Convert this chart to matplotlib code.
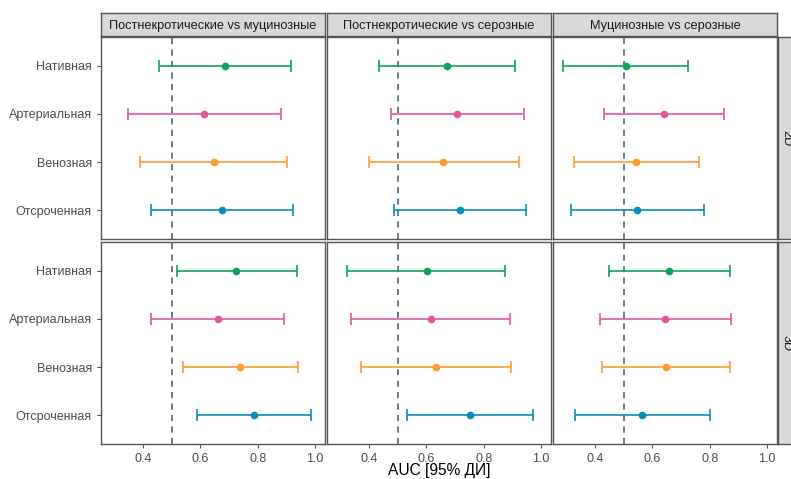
import matplotlib
matplotlib.use("Agg")
import matplotlib.pyplot as plt

plt.rcParams['font.family'] = ['Liberation Sans', 'DejaVu Sans']

phases = ["Нативная", "Артериальная", "Венозная", "Отсроченная"]
comparisons = ["Постнекротические vs муцинозные",
               "Постнекротические vs серозные",
               "Муцинозные vs серозные"]
dims = ["2D", "3D"]
phase_colors = ["#10A35A", "#E4569C", "#FF9B2F", "#0A8DB6"]
xticks = [0.4, 0.6, 0.8, 1.0]

# AUC point estimates and 95% CI, per dimension -> per comparison -> per phase
auc_2d_pm = [0.687, 0.613, 0.646, 0.675]
lo_2d_pm = [0.456, 0.347, 0.390, 0.427]
hi_2d_pm = [0.916, 0.880, 0.904, 0.923]

auc_2d_ps = [0.672, 0.707, 0.659, 0.718]
lo_2d_ps = [0.433, 0.476, 0.398, 0.488]
hi_2d_ps = [0.910, 0.939, 0.922, 0.949]

auc_2d_ms = [0.507, 0.640, 0.544, 0.547]
lo_2d_ms = [0.287, 0.430, 0.328, 0.315]
hi_2d_ms = [0.726, 0.849, 0.761, 0.780]

auc_3d_pm = [0.726, 0.660, 0.740, 0.786]
lo_3d_pm = [0.518, 0.426, 0.540, 0.587]
hi_3d_pm = [0.937, 0.893, 0.939, 0.986]

auc_3d_ps = [0.601, 0.615, 0.634, 0.752]
lo_3d_ps = [0.324, 0.336, 0.371, 0.533]
hi_3d_ps = [0.875, 0.893, 0.896, 0.971]

auc_3d_ms = [0.659, 0.645, 0.646, 0.564]
lo_3d_ms = [0.447, 0.416, 0.424, 0.329]
hi_3d_ms = [0.872, 0.873, 0.870, 0.800]

data = {
    "2D": [(auc_2d_pm, lo_2d_pm, hi_2d_pm), (auc_2d_ps, lo_2d_ps, hi_2d_ps), (auc_2d_ms, lo_2d_ms, hi_2d_ms)],
    "3D": [(auc_3d_pm, lo_3d_pm, hi_3d_pm), (auc_3d_ps, lo_3d_ps, hi_3d_ps), (auc_3d_ms, lo_3d_ms, hi_3d_ms)],
}

W, H = 791, 479
fig = plt.figure(figsize=(W / 100, H / 100), dpi=100)

def fx(px):
    return px / W

def fy(py):
    return 1 - py / H

col_left = [101, 327, 553]
col_w = 224
row_top = [37, 242]
row_h = 202
border_c = "#555555"

ypos = [4, 3, 2, 1]

for r, d in enumerate(dims):
    for c in range(3):
        ax = fig.add_axes([fx(col_left[c]), fy(row_top[r] + row_h), fx(col_w), row_h / H])
        ax.set_xlim(0.253, 1.035)
        ax.set_ylim(0.4, 4.6)
        ax.axvline(0.5, color="#3E5B6E", lw=1.1, ls=(0, (4, 3.5)), zorder=1)
        auc, lo, hi = data[d][c]
        for i in range(4):
            ax.errorbar([auc[i]], [ypos[i]], xerr=[[auc[i] - lo[i]], [hi[i] - auc[i]]],
                        fmt="o", color=phase_colors[i], ms=4.5, elinewidth=1.2,
                        capsize=4, capthick=1.2, zorder=3)
        for s in ax.spines.values():
            s.set_color(border_c)
            s.set_linewidth(1.0)
        ax.set_xticks(xticks)
        ax.set_yticks(ypos)
        ax.tick_params(colors="#555555", length=3, width=0.8, labelcolor="#4D4D4D", labelsize=9)
        if r == 0:
            ax.set_xticklabels([])
            ax.tick_params(axis="x", length=0)
        else:
            ax.set_xticklabels([f"{t:.1f}" for t in xticks])
        if c == 0:
            ax.set_yticklabels(phases)
        else:
            ax.set_yticklabels([])
            ax.tick_params(axis="y", length=0)

# top strips
for c in range(3):
    sax = fig.add_axes([fx(col_left[c]), fy(36), fx(col_w), 23 / H])
    sax.set_facecolor("#D9D9D9")
    sax.set_xticks([]); sax.set_yticks([])
    for s in sax.spines.values():
        s.set_color(border_c); s.set_linewidth(1.0)
    sax.text(0.5, 0.45, comparisons[c], ha="center", va="center", fontsize=9.2, color="#1A1A1A",
             transform=sax.transAxes)

# right strips (partly outside the figure, as in the reference)
for r, d in enumerate(dims):
    sax = fig.add_axes([fx(778), fy(row_top[r] + row_h), fx(24), row_h / H])
    sax.set_facecolor("#D9D9D9")
    sax.set_xticks([]); sax.set_yticks([])
    for s in sax.spines.values():
        s.set_color(border_c); s.set_linewidth(1.0)
    sax.text(0.36, 0.5, d, ha="center", va="center", rotation=-90, fontsize=9.2, color="#1A1A1A",
             transform=sax.transAxes)

fig.text(fx(439), fy(471), "AUC [95% ДИ]", ha="center", va="center", fontsize=11.2, color="black")

fig.savefig("out.png", dpi=100)
